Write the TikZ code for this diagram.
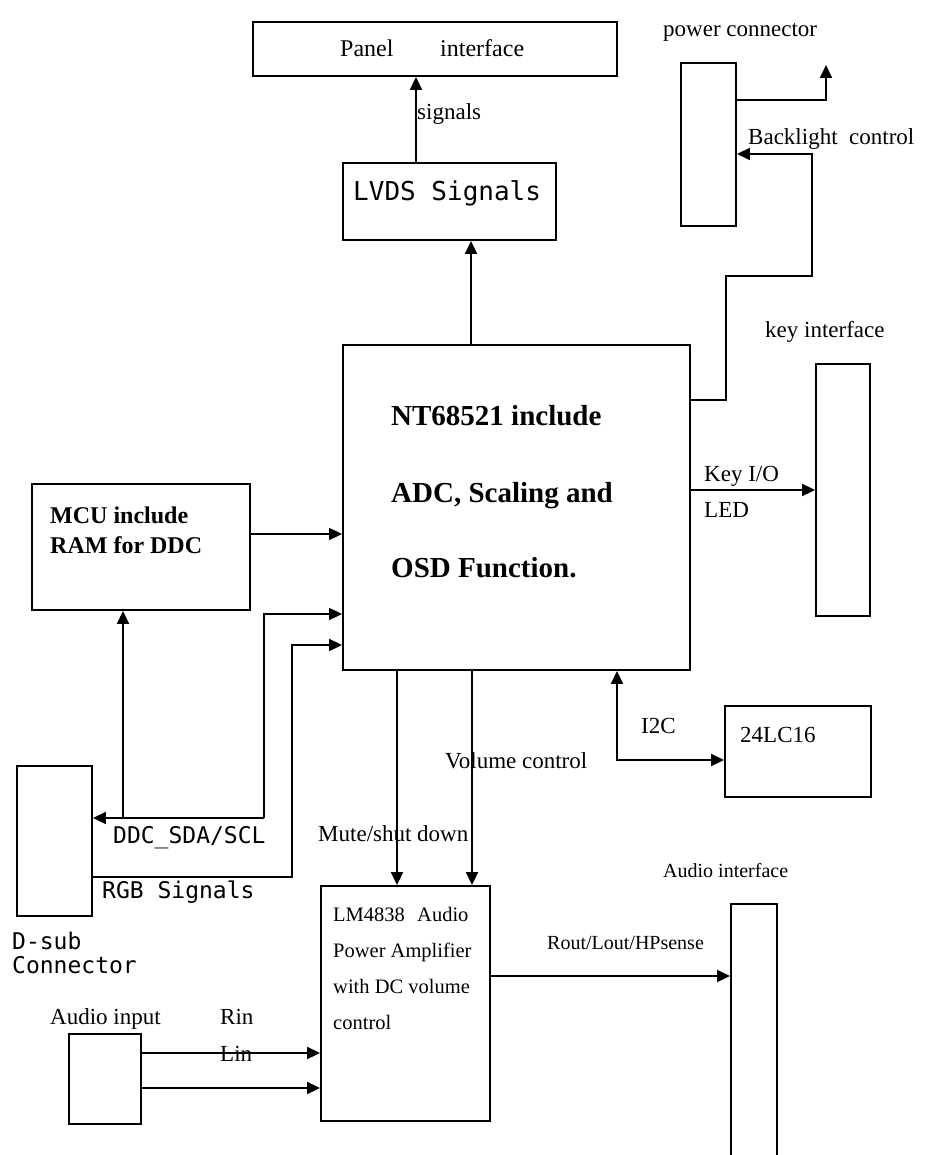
\documentclass[tikz,border=0pt]{standalone}
\usepackage{fontspec}
\setmainfont{Liberation Serif}
\setmonofont{DejaVu Sans Mono}
\usetikzlibrary{arrows.meta}
\begin{document}
\begin{tikzpicture}[x=1pt,y=-1pt,
  box/.style={draw,line width=1.9pt,inner sep=0pt,rectangle},
  lbl/.style={anchor=base west,inner sep=0pt,font=\fontsize{23}{27}\selectfont},
  mlbl/.style={anchor=base west,inner sep=0pt,font=\ttfamily\fontsize{23}{27}\selectfont},
  wire/.style={line width=1.9pt},
  arr/.style={line width=1.9pt,-{Triangle[length=13pt,width=12pt]}},
  barr/.style={line width=1.9pt,{Triangle[length=13pt,width=12pt]}-{Triangle[length=13pt,width=12pt]}}]
\useasboundingbox (0,0) rectangle (925,1155);
% boxes
\node[box,minimum width=364pt,minimum height=54pt] (panel) at (435,49) {};
\node[box,minimum width=213pt,minimum height=77pt] (lvds) at (449.5,201.5) {};
\node[box,minimum width=55pt,minimum height=163pt] (power) at (708.5,144.5) {};
\node[box,minimum width=347pt,minimum height=325pt] (nt) at (516.5,507.5) {};
\node[box,minimum width=54pt,minimum height=252pt] (key) at (843,490) {};
\node[box,minimum width=218pt,minimum height=126pt] (mcu) at (141,547) {};
\node[box,minimum width=75pt,minimum height=150pt] (dsub) at (54.5,841) {};
\node[box,minimum width=146pt,minimum height=91pt] (eeprom) at (798,751.5) {};
\node[box,minimum width=169pt,minimum height=235pt] (lm) at (405.5,1003.5) {};
\node[box,minimum width=46pt,minimum height=254pt] (aout) at (754,1031) {};
\node[box,minimum width=72pt,minimum height=90pt] (ain) at (105,1079) {};
% texts
\node[lbl,font=\fontsize{24}{28}\selectfont] (tpanel) at (340,57) {Panel};
\node[lbl,font=\fontsize{24}{28}\selectfont] (tpanel2) at (440,57) {interface};
\node[lbl] (tsig) at (417,120) {signals};
\node[mlbl,font=\ttfamily\fontsize{26}{30}\selectfont] (tlvds) at (353,201) {LVDS Signals};
\node[lbl] (tpower) at (663,37) {power connector};
\node[lbl] (tback) at (748,145) {Backlight\ \ control};
\node[lbl] (tkey) at (765,337) {key interface};
\node[anchor=base west,inner sep=0pt,font=\bfseries\fontsize{29}{33}\selectfont] (tnt1) at (391,425) {NT68521 include};
\node[anchor=base west,inner sep=0pt,font=\bfseries\fontsize{29}{33}\selectfont] (tnt2) at (391,502) {ADC, Scaling and};
\node[anchor=base west,inner sep=0pt,font=\bfseries\fontsize{29}{33}\selectfont] (tnt3) at (391,577) {OSD Function.};
\node[lbl] (tkio) at (704,481) {Key I/O};
\node[lbl] (tled) at (704,517) {LED};
\node[anchor=base west,inner sep=0pt,font=\bfseries\fontsize{24}{28}\selectfont] (tmcu1) at (50,523) {MCU include};
\node[anchor=base west,inner sep=0pt,font=\bfseries\fontsize{24}{28}\selectfont] (tmcu2) at (50,553) {RAM for DDC};
\node[mlbl] (tddc) at (113,843) {DDC\_SDA/SCL};
\node[mlbl] (trgb) at (102,898) {RGB Signals};
\node[mlbl] (tdsub1) at (12,949) {D-sub};
\node[mlbl] (tdsub2) at (12,973) {Connector};
\node[lbl] (tain) at (50,1024) {Audio input};
\node[lbl] (trin) at (220,1024) {Rin};
\node[lbl] (tlin) at (220,1061) {Lin};
\node[lbl] (ti2c) at (641,733) {I2C};
\node[lbl] (tvol) at (445,768) {Volume control};
\node[lbl] (tmute) at (318,841) {Mute/shut down};
\node[lbl] (t24) at (740,742) {24LC16};
\node[lbl,font=\fontsize{20.5}{24}\selectfont] (tlm1) at (333,921) {LM4838};
\node[lbl,font=\fontsize{20.5}{24}\selectfont] (tlm1b) at (417,921) {Audio};
\node[lbl,font=\fontsize{20.5}{24}\selectfont] (tlm2) at (333,957) {Power Amplifier};
\node[lbl,font=\fontsize{20.5}{24}\selectfont] (tlm3) at (333,993) {with DC volume};
\node[lbl,font=\fontsize{20.5}{24}\selectfont] (tlm4) at (333,1029) {control};
\node[lbl,font=\fontsize{20}{24}\selectfont] (trout) at (547,949) {Rout/Lout/HPsense};
\node[lbl,font=\fontsize{20}{24}\selectfont] (taif) at (663,877) {Audio interface};
% helper coordinates
\coordinate (x416) at (416,0);
\coordinate (x471) at (471,0);
\coordinate (y100) at (0,100);
\coordinate (pwrtop) at (826,65);
\coordinate (bl1) at (726,400);
\coordinate (bl2) at (726,276);
\coordinate (bl3) at (812,276);
\coordinate (bl4) at (812,154);
\coordinate (y490) at (0,490);
\coordinate (y534) at (0,534);
\coordinate (ddcj) at (264,818);
\coordinate (ddcu) at (264,614);
\coordinate (x123) at (123,0);
\coordinate (rgb1) at (292,877);
\coordinate (rgb2) at (292,645);
\coordinate (x397) at (397,0);
\coordinate (x472) at (472,0);
\coordinate (i2cc) at (617,760);
\coordinate (y976) at (0,976);
\coordinate (y1053) at (0,1053);
\coordinate (y1088) at (0,1088);
% connectors
\draw[arr] (lvds.north -| x416) -- (panel.south -| x416);
\draw[arr] (nt.north -| x471) -- (lvds.south -| x471);
\draw[arr] (power.east |- y100) -| (pwrtop);
\draw[arr] (nt.east |- bl1) -- (bl1) -- (bl2) -- (bl3) -- (bl4) -- (power.east |- bl4);
\draw[arr] (nt.east |- y490) -- (key.west |- y490);
\draw[arr] (mcu.east |- y534) -- (nt.west |- y534);
\draw[arr] (ddcj) -- (ddcu) -- (nt.west |- ddcu);
\draw[arr] (ddcj) -- (dsub.east |- ddcj);
\draw[arr] (ddcj -| x123) -- (mcu.south -| x123);
\draw[arr] (dsub.east |- rgb1) -- (rgb1) -- (rgb2) -- (nt.west |- rgb2);
\draw[arr] (nt.south -| x397) -- (lm.north -| x397);
\draw[arr] (nt.south -| x472) -- (lm.north -| x472);
\draw[barr] (nt.south -| i2cc) -- (i2cc) -- (eeprom.west |- i2cc);
\draw[arr] (lm.east |- y976) -- (aout.west |- y976);
\draw[arr] (ain.east |- y1053) -- (lm.west |- y1053);
\draw[arr] (ain.east |- y1088) -- (lm.west |- y1088);
\end{tikzpicture}
\end{document}
